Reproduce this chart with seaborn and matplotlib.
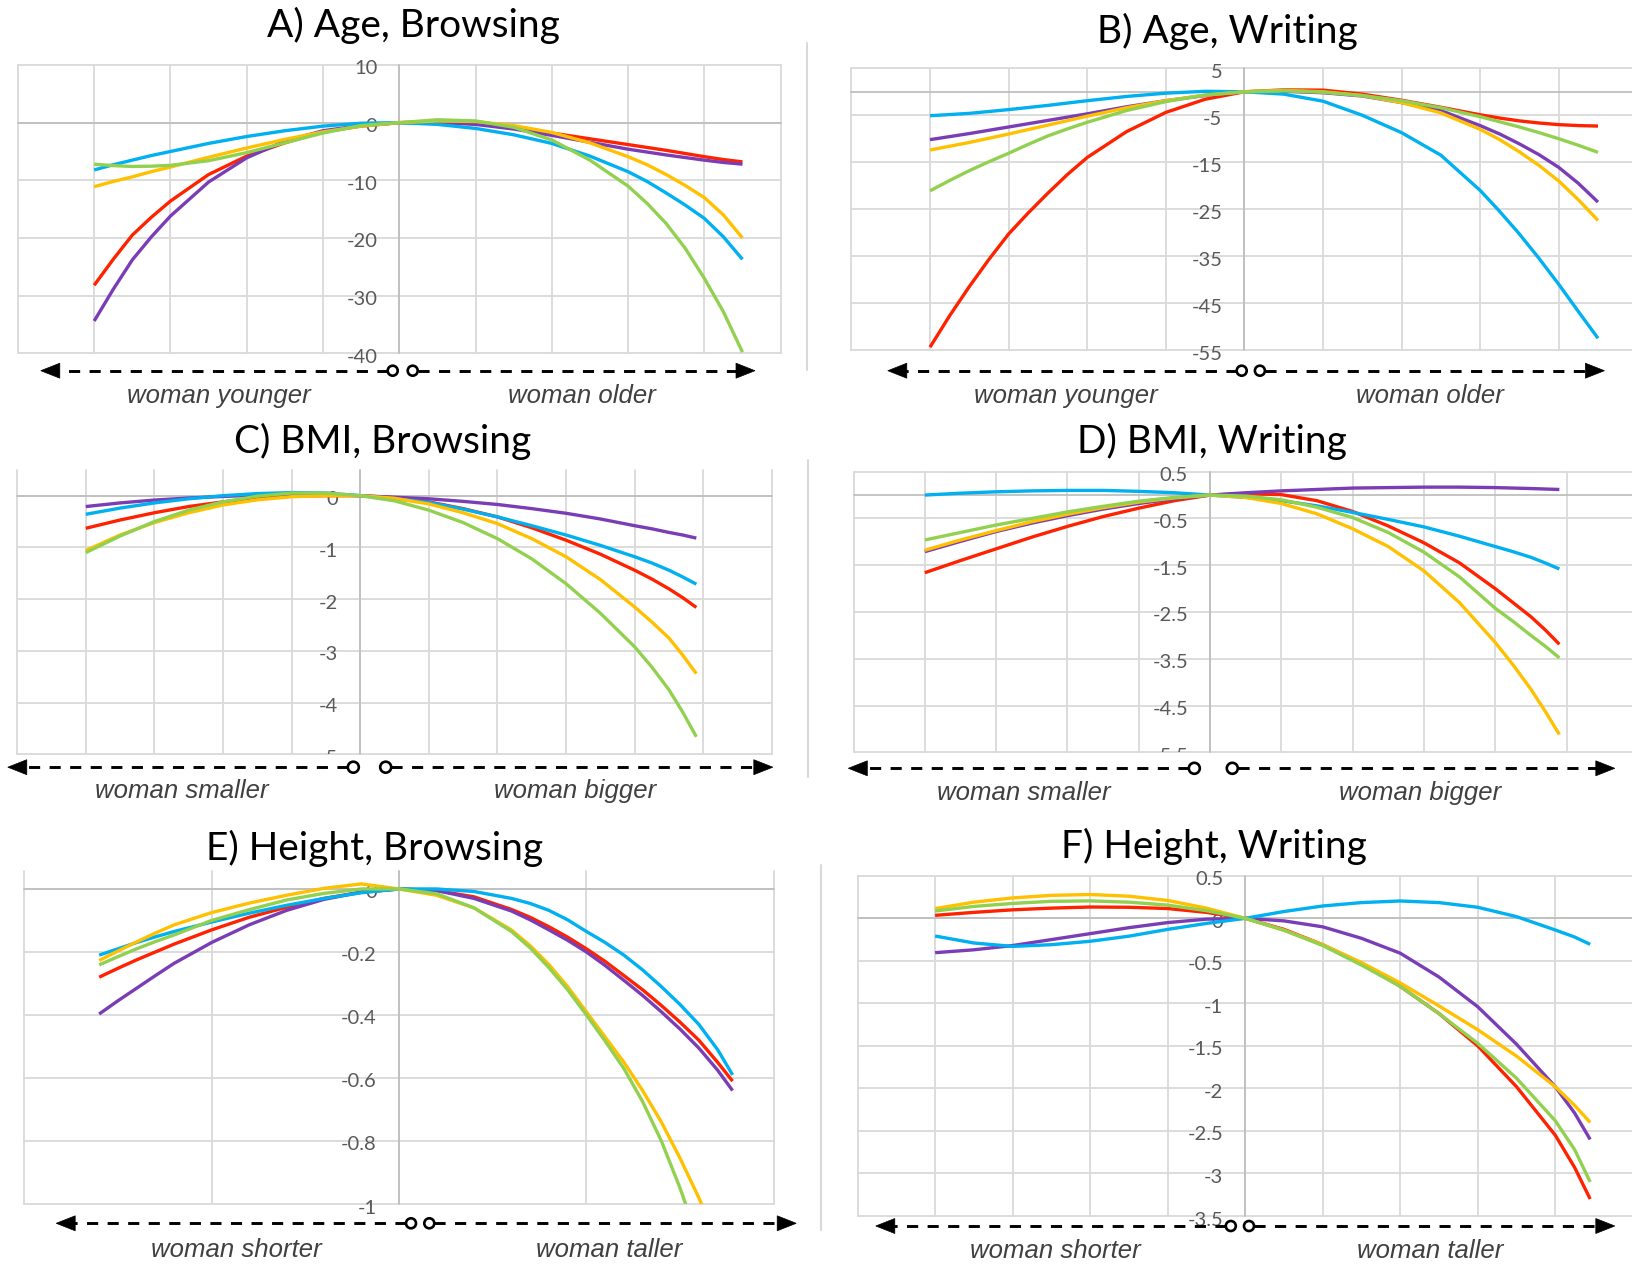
import numpy as np
import pandas as pd
import matplotlib
matplotlib.use("Agg")
import matplotlib.pyplot as plt
import matplotlib.transforms as mtransforms
from matplotlib.patches import Circle, Polygon
import seaborn as sns

# ---------------- data ----------------
SERIES = ["red", "purple", "cyan", "yellow", "green"]
COLORS = {"red": "#FF2200", "purple": "#7A3DB6", "cyan": "#00B0F0",
          "yellow": "#FFC000", "green": "#92D050"}

A_x = [-4, -3.75, -3.5, -3.25, -3, -2.5, -2, -1.5, -1, -0.5, 0, 0.5, 1, 1.5, 2, 2.5, 3, 3.25, 3.5, 3.75, 4, 4.25, 4.5]
A_red = [-28.2, -23.7, -19.5, -16.4, -13.6, -9.0, -5.8, -3.5, -1.6, -0.6, 0, 0.1, -0.2, -0.9, -1.8, -2.8, -3.8, -4.3, -4.8, -5.35, -5.9, -6.4, -6.8]
A_purple = [-34.4, -28.9, -23.8, -19.8, -16.2, -10.3, -6.1, -3.2, -1.4, -0.5, 0, 0.05, -0.3, -1.1, -2.2, -3.4, -4.6, -5.1, -5.6, -6.05, -6.5, -6.9, -7.2]
A_cyan = [-8.2, -7.3, -6.5, -5.7, -5.0, -3.6, -2.4, -1.4, -0.6, -0.1, 0, -0.3, -1.0, -2.1, -3.6, -5.8, -8.5, -10.2, -12.2, -14.3, -16.6, -19.8, -23.7]
A_yellow = [-11.1, -10.2, -9.4, -8.5, -7.7, -6.0, -4.4, -2.9, -1.6, -0.6, 0, 0.3, 0.2, -0.5, -1.7, -3.5, -5.9, -7.3, -9.0, -10.9, -13.0, -16.0, -20.0]
A_green = [-7.2, -7.45, -7.6, -7.55, -7.4, -6.6, -5.2, -3.5, -1.8, -0.5, 0, 0.5, 0.3, -0.8, -3.0, -6.5, -11.0, -14.0, -17.5, -21.8, -27.0, -32.8, -39.8]

B_x = [-4, -3.75, -3.5, -3.25, -3, -2.75, -2.5, -2.25, -2, -1.5, -1, -0.5, 0, 0.5, 1, 1.5, 2, 2.5, 3, 3.25, 3.5, 3.75, 4, 4.25, 4.5]
B_red = [-54.4, -47.7, -41.5, -35.7, -30.3, -25.8, -21.6, -17.6, -14.0, -8.5, -4.4, -1.6, 0, 0.4, 0.35, -0.5, -1.8, -3.3, -4.9, -5.6, -6.2, -6.65, -7.0, -7.2, -7.3]
B_purple = [-10.2, -9.55, -8.9, -8.2, -7.5, -6.8, -6.1, -5.4, -4.7, -3.2, -1.9, -0.8, 0, 0.1, -0.2, -0.9, -2.3, -4.0, -7.2, -9.0, -11.1, -13.4, -16.1, -19.5, -23.5]
B_cyan = [-5.1, -4.85, -4.6, -4.2, -3.8, -3.35, -2.9, -2.4, -1.9, -1.0, -0.3, 0.1, 0, -0.5, -2.0, -5.0, -8.7, -13.5, -21.0, -25.5, -30.3, -35.5, -41.0, -46.8, -52.5]
B_yellow = [-12.4, -11.6, -10.8, -9.9, -9.0, -8.05, -7.1, -6.15, -5.2, -3.4, -1.9, -0.7, 0, 0.3, 0.0, -0.8, -2.3, -4.5, -8.0, -10.2, -12.8, -15.7, -19.0, -23.0, -27.4]
B_green = [-21.1, -18.9, -16.8, -14.9, -13.1, -11.2, -9.4, -7.9, -6.5, -4.0, -2.1, -0.7, 0, 0.2, -0.1, -0.8, -1.9, -3.4, -5.3, -6.4, -7.5, -8.7, -10.0, -11.4, -12.9]

C_x = [-4, -3.5, -3, -2.5, -2, -1.5, -1, -0.5, 0, 0.5, 1, 1.5, 2, 2.5, 3, 3.5, 4, 4.25, 4.5, 4.7, 4.9]
C_red = [-0.63, -0.47, -0.33, -0.21, -0.12, -0.05, -0.01, 0.0, 0, -0.04, -0.12, -0.25, -0.41, -0.62, -0.86, -1.13, -1.44, -1.61, -1.8, -1.97, -2.16]
C_purple = [-0.21, -0.14, -0.085, -0.045, -0.015, 0.01, 0.025, 0.02, 0, -0.03, -0.06, -0.11, -0.17, -0.25, -0.34, -0.45, -0.58, -0.64, -0.71, -0.76, -0.82]
C_cyan = [-0.36, -0.24, -0.14, -0.06, 0.0, 0.04, 0.06, 0.05, 0, -0.06, -0.13, -0.26, -0.41, -0.58, -0.76, -0.96, -1.18, -1.3, -1.44, -1.57, -1.71]
C_yellow = [-1.06, -0.76, -0.52, -0.33, -0.18, -0.08, -0.02, 0.0, 0, -0.05, -0.16, -0.33, -0.54, -0.83, -1.18, -1.62, -2.15, -2.44, -2.75, -3.08, -3.44]
C_green = [-1.1, -0.78, -0.5, -0.28, -0.12, -0.01, 0.05, 0.05, 0, -0.1, -0.28, -0.52, -0.83, -1.22, -1.7, -2.27, -2.92, -3.31, -3.75, -4.18, -4.66]

D_x = [-4, -3.5, -3, -2.5, -2, -1.5, -1, -0.5, 0, 0.5, 1, 1.5, 2, 2.5, 3, 3.5, 4, 4.25, 4.5, 4.7, 4.9]
D_red = [-1.66, -1.4, -1.15, -0.9, -0.67, -0.46, -0.28, -0.12, 0, 0.03, 0.01, -0.12, -0.35, -0.66, -1.02, -1.45, -2.0, -2.3, -2.6, -2.88, -3.19]
D_purple = [-1.21, -0.99, -0.78, -0.6, -0.44, -0.3, -0.18, -0.08, 0, 0.05, 0.09, 0.12, 0.15, 0.16, 0.17, 0.17, 0.16, 0.15, 0.14, 0.13, 0.12]
D_cyan = [0.0, 0.04, 0.07, 0.09, 0.1, 0.1, 0.08, 0.05, 0, -0.05, -0.12, -0.23, -0.37, -0.52, -0.68, -0.88, -1.1, -1.21, -1.33, -1.45, -1.58]
D_yellow = [-1.18, -0.96, -0.76, -0.57, -0.41, -0.27, -0.15, -0.06, 0, -0.05, -0.18, -0.4, -0.72, -1.1, -1.62, -2.3, -3.15, -3.63, -4.15, -4.62, -5.12]
D_green = [-0.96, -0.8, -0.64, -0.5, -0.36, -0.24, -0.13, -0.05, 0, -0.02, -0.1, -0.26, -0.48, -0.8, -1.22, -1.75, -2.42, -2.7, -3.0, -3.23, -3.48]

E_x = [-8, -7.5, -7, -6.5, -6, -5, -4, -3, -2, -1, 0, 1, 2, 3, 3.5, 4, 4.5, 5, 5.5, 6, 6.5, 7, 7.5, 8, 8.5, 8.9]
E_red = [-0.28, -0.252, -0.225, -0.2, -0.175, -0.13, -0.09, -0.058, -0.03, -0.01, 0, -0.005, -0.025, -0.065, -0.09, -0.12, -0.153, -0.19, -0.23, -0.275, -0.32, -0.37, -0.423, -0.48, -0.55, -0.61]
E_purple = [-0.397, -0.355, -0.315, -0.275, -0.236, -0.17, -0.114, -0.068, -0.033, -0.01, 0, -0.005, -0.03, -0.07, -0.098, -0.13, -0.163, -0.2, -0.243, -0.29, -0.338, -0.39, -0.445, -0.505, -0.575, -0.64]
E_cyan = [-0.21, -0.19, -0.17, -0.152, -0.135, -0.105, -0.077, -0.052, -0.03, -0.012, 0, 0.0, -0.008, -0.03, -0.046, -0.068, -0.098, -0.135, -0.17, -0.21, -0.257, -0.31, -0.367, -0.43, -0.51, -0.59]
E_yellow = [-0.227, -0.197, -0.168, -0.14, -0.114, -0.075, -0.045, -0.02, 0.002, 0.016, 0, -0.02, -0.06, -0.13, -0.18, -0.24, -0.31, -0.39, -0.47, -0.55, -0.64, -0.74, -0.855, -0.98, -1.12, -1.25]
E_green = [-0.241, -0.215, -0.19, -0.167, -0.146, -0.1, -0.066, -0.035, -0.014, 0.0, 0, -0.015, -0.06, -0.135, -0.187, -0.25, -0.32, -0.4, -0.483, -0.57, -0.675, -0.8, -0.95, -1.12, -1.3, -1.45]

F_x = [-4, -3.5, -3, -2.5, -2, -1.5, -1, -0.5, 0, 0.5, 1, 1.5, 2, 2.5, 3, 3.5, 4, 4.25, 4.45]
F_red = [0.035, 0.07, 0.1, 0.12, 0.133, 0.13, 0.115, 0.07, 0, -0.13, -0.31, -0.53, -0.8, -1.12, -1.5, -1.98, -2.55, -2.93, -3.3]
F_purple = [-0.404, -0.37, -0.32, -0.25, -0.18, -0.11, -0.05, -0.01, 0, -0.03, -0.1, -0.235, -0.41, -0.69, -1.04, -1.48, -1.98, -2.29, -2.6]
F_cyan = [-0.208, -0.29, -0.33, -0.31, -0.27, -0.21, -0.13, -0.06, 0, 0.08, 0.145, 0.185, 0.204, 0.185, 0.13, 0.02, -0.137, -0.22, -0.306]
F_yellow = [0.114, 0.19, 0.24, 0.27, 0.28, 0.26, 0.21, 0.12, 0, -0.14, -0.31, -0.52, -0.76, -1.03, -1.31, -1.62, -1.98, -2.2, -2.4]
F_green = [0.086, 0.14, 0.175, 0.2, 0.205, 0.19, 0.155, 0.09, 0, -0.14, -0.32, -0.55, -0.8, -1.12, -1.47, -1.88, -2.38, -2.72, -3.1]

TITLES = ["A) Age, Browsing", "B) Age, Writing", "C) BMI, Browsing",
          "D) BMI, Writing", "E) Height, Browsing", "F) Height, Writing"]
SIDE_LABELS = [("woman younger", "woman older"), ("woman younger", "woman older"),
               ("woman smaller", "woman bigger"), ("woman smaller", "woman bigger"),
               ("woman shorter", "woman taller"), ("woman shorter", "woman taller")]

A_yticks = ["10", "0", "-10", "-20", "-30", "-40"]
B_yticks = ["5", "-5", "-15", "-25", "-35", "-45", "-55"]
C_yticks = ["0", "-1", "-2", "-3", "-4", "-5"]
D_yticks = ["0.5", "-0.5", "-1.5", "-2.5", "-3.5", "-4.5", "-5.5"]
E_yticks = ["0", "-0.2", "-0.4", "-0.6", "-0.8", "-1"]
F_yticks = ["0.5", "0", "-0.5", "-1", "-1.5", "-2", "-2.5", "-3", "-3.5"]

# ---------------- styling ----------------
sns.set_style("white")
plt.rcParams["font.family"] = ["Lato", "DejaVu Sans"]
plt.rcParams["lines.scale_dashes"] = False

W, H = 1632, 1265
fig = plt.figure(figsize=(W / 100, H / 100), dpi=100)
fig.patch.set_facecolor("white")

GRID = "#D9D9D9"
AXISC = "#BFBFBF"
TICKC = "#595959"


def make_panel(rect, xlim, ylim, xgrid, yticks_txt, xs, ys_dict, clip_last=False):
    l, t, r, b = rect
    ax = fig.add_axes([l / W, 1 - b / H, (r - l) / W, (b - t) / H])
    df = pd.DataFrame({"x": xs, **ys_dict})
    long = df.melt(id_vars="x", var_name="series", value_name="value")
    sns.lineplot(data=long, x="x", y="value", hue="series", hue_order=SERIES,
                 palette=COLORS, ax=ax, legend=False, linewidth=2.4,
                 estimator=None, sort=False, zorder=3)
    for line in ax.get_lines():
        line.set_solid_capstyle("butt")
        line.set_solid_joinstyle("round")
    ax.set_xlim(*xlim)
    ax.set_ylim(*ylim)
    ax.set_axis_off()
    yvals = [float(s) for s in yticks_txt]
    for v in xgrid:
        ax.axvline(v, color=GRID, lw=1.3, zorder=0.5, clip_on=False)
    for v in yvals:
        ax.axhline(v, color=GRID, lw=1.3, zorder=0.5, clip_on=False)
    ax.axhline(0, color=AXISC, lw=1.3, zorder=0.6, clip_on=False)
    ax.axvline(0, color=AXISC, lw=1.3, zorder=0.6, clip_on=False)
    off = mtransforms.ScaledTranslation(-22 / 100, -4 / 100, fig.dpi_scale_trans)
    for i, (s, v) in enumerate(zip(yticks_txt, yvals)):
        clip = clip_last and i == len(yticks_txt) - 1
        txt = ax.text(0, v, s, transform=ax.transData + off, ha="right", va="center",
                      fontsize=14.5, color=TICKC, zorder=1, clip_on=clip)
        if clip:
            txt.set_clip_box(ax.bbox)
    return ax


make_panel((17.9, 65, 780.6, 353.3), (-5, 5), (-40, 10), range(-5, 6), A_yticks, A_x,
           {"red": A_red, "purple": A_purple, "cyan": A_cyan, "yellow": A_yellow, "green": A_green})
make_panel((851.4, 68.3, 1637.3, 350), (-5, 5), (-55, 5), range(-5, 6), B_yticks, B_x,
           {"red": B_red, "purple": B_purple, "cyan": B_cyan, "yellow": B_yellow, "green": B_green})
make_panel((17.2, 469.8, 771.8, 754.4), (-5, 6), (-5, 0.5), range(-5, 7), C_yticks, C_x,
           {"red": C_red, "purple": C_purple, "cyan": C_cyan, "yellow": C_yellow, "green": C_green},
           clip_last=True)
make_panel((853.5, 471.7, 1637.8, 752.3), (-5, 6), (-5.5, 0.5), range(-5, 7), D_yticks, D_x,
           {"red": D_red, "purple": D_purple, "cyan": D_cyan, "yellow": D_yellow, "green": D_green},
           clip_last=True)
make_panel((24.2, 871, 773.8, 1204), (-10, 10), (-1, 0.057), [-10, -5, 0, 5, 10], E_yticks, E_x,
           {"red": E_red, "purple": E_purple, "cyan": E_cyan, "yellow": E_yellow, "green": E_green})
make_panel((857.6, 875.8, 1632.8, 1216), (-5, 5), (-3.5, 0.5), range(-5, 6), F_yticks, F_x,
           {"red": F_red, "purple": F_purple, "cyan": F_cyan, "yellow": F_yellow, "green": F_green})

# ---------------- overlay: titles, arrows, labels, separators ----------------
ov = fig.add_axes([0, 0, 1, 1], zorder=10)
ov.set_xlim(0, W)
ov.set_ylim(H, 0)
ov.set_axis_off()
ov.patch.set_alpha(0)

title_pos = [(413, 36.7), (1227, 43.3), (382.5, 453.3), (1211.5, 453.3), (374.7, 860), (1214, 858.3)]
for (cx, by), t in zip(title_pos, TITLES):
    ov.text(cx, by, t, ha="center", va="baseline", fontsize=28, color="black")

# arrows: (y, left tip, right tip, circle1 x, circle2 x, circle r)
arrows = [(370.7, 40.8, 755, 392.7, 412.7, 5.0),
          (370.7, 887.8, 1604.4, 1241.7, 1259.9, 5.0),
          (767.2, 7.8, 772.8, 353.3, 385.7, 5.5),
          (768.3, 848.3, 1614.8, 1194.3, 1232.3, 5.5),
          (1223.3, 56.2, 796.2, 411.0, 429.3, 5.0),
          (1226.0, 875.8, 1614.8, 1230.8, 1249.0, 5.0)]
for (y, xl, xr, c1, c2, r) in arrows:
    hl, hh = 19, 7.5
    ov.add_patch(Polygon([(xl, y), (xl + hl, y - hh), (xl + hl, y + hh)], closed=True,
                         fc="black", ec="black", lw=0.5))
    ov.add_patch(Polygon([(xr, y), (xr - hl, y - hh), (xr - hl, y + hh)], closed=True,
                         fc="black", ec="black", lw=0.5))
    ov.plot([c1 - r, xl + hl - 2], [y, y], color="black", lw=2.1, ls=(0, (8.0, 6.8)),
            solid_capstyle="butt", dash_capstyle="butt")
    ov.plot([c2 + r, xr - hl + 2], [y, y], color="black", lw=2.1, ls=(0, (8.0, 6.8)),
            solid_capstyle="butt", dash_capstyle="butt")
    for cx in (c1, c2):
        ov.add_patch(Circle((cx, y), r, fc="white", ec="black", lw=1.9, zorder=5))

label_pos = [((219, 403.3), (581.6, 403.3)), ((1065.8, 403.3), (1430, 403.3)),
             ((182, 798.3), (575, 798.3)), ((1024.2, 800), (1419.7, 800)),
             ((236.8, 1256.7), (608.9, 1256.7)), ((1055.4, 1258.3), (1430, 1258.3))]
for (p1, p2), (s1, s2) in zip(label_pos, SIDE_LABELS):
    for (px, py), s in ((p1, s1), (p2, s2)):
        ov.text(px, py, s, ha="center", va="baseline", fontsize=18.5, fontstyle="italic",
                family=["Liberation Sans", "DejaVu Sans"], color="#404040")

for x, y0, y1 in [(806.7, 42.7, 370), (808.3, 460, 777), (821, 865, 1230)]:
    ov.plot([x, x], [y0, y1], color=GRID, lw=1.5)

fig.savefig("out.png", dpi=100, facecolor="white")
